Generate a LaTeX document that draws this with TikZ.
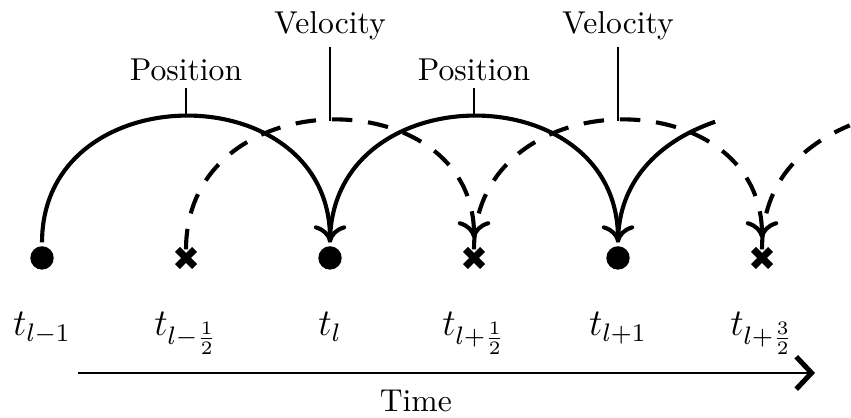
\documentclass[tikz,border=0pt]{standalone}
\usepackage{amsmath}
\usetikzlibrary{positioning,arrows.meta,shapes.misc}

\begin{document}
\begin{tikzpicture}[
    posdot/.style={circle, fill=black, inner sep=0pt, minimum size=0.26cm,
                   outer sep=1.2pt},
    velcross/.style={cross out, draw=black, line width=2.2pt, inner sep=0pt,
                     minimum size=0.19cm, outer sep=0pt},
    posline/.style={line width=1.3pt},
    posarc/.style={posline, -{To[length=1.9mm,width=3.6mm]}},
    velline/.style={posline, dash pattern=on 6.5pt off 5pt},
    velarc/.style={posarc, dash pattern=on 6.5pt off 5pt, shorten >=3.5pt},
    tag/.style={inner sep=2pt},
    pin/.style={line width=0.4pt},
    tlbl/.style={anchor=base, inner sep=0pt, font=\large},
    timearr/.style={line width=0.6pt,
                    -{Straight Barb[length=1.7mm,width=3.6mm,line width=1.6pt]}}
]
\useasboundingbox (0,0) rectangle (9.456,4.644);

% time points: dots for position, crosses for velocity
\node[posdot] (p0) at (0.467,1.778) {};
\node[velcross] (p1) at (2.067,1.778) {};
\node[posdot] (p2) at (3.667,1.778) {};
\node[velcross] (p3) at (5.267,1.778) {};
\node[posdot] (p4) at (6.867,1.778) {};
\node[velcross] (p5) at (8.467,1.778) {};

\node[tlbl, below=0.86cm of p0.center, anchor=base] (t0) {$t_{l-1}$};
\node[tlbl, below=0.86cm of p1.center, anchor=base] (t1) {$t_{l-\frac{1}{2}}$};
\node[tlbl, below=0.86cm of p2.center, anchor=base] (t2) {$t_{l}$};
\node[tlbl, below=0.86cm of p3.center, anchor=base] (t3) {$t_{l+\frac{1}{2}}$};
\node[tlbl, below=0.86cm of p4.center, anchor=base] (t4) {$t_{l+1}$};
\node[tlbl, below=0.86cm of p5.center, anchor=base] (t5) {$t_{l+\frac{3}{2}}$};

% leapfrog jumps
\draw[posarc] (p0) to[out=90,in=90,looseness=1.5] coordinate[pos=0.5] (top0) (p2);
\draw[velarc] (p1) to[out=90,in=90,looseness=1.52] coordinate[pos=0.5] (top1) (p3);
\draw[posarc] (p2) to[out=90,in=90,looseness=1.5] coordinate[pos=0.5] (top2) (p4);
\draw[velarc] (p3) to[out=90,in=90,looseness=1.52] coordinate[pos=0.5] (top3) (p5);
\coordinate (pend) at (7.946,3.291);
\coordinate (vend) at (9.442,3.251);
\draw[posline] (p4) to[out=90,in=199,looseness=1] (pend);
\draw[velline] (p5) to[out=90,in=203,looseness=1.02] (vend);

% labels
\node[tag, above=0.31cm of top0] (pos0) {Position};
\node[tag, above=0.83cm of top1] (vel1) {Velocity};
\node[tag, above=0.31cm of top2] (pos2) {Position};
\node[tag, above=0.83cm of top3] (vel3) {Velocity};
\draw[pin] (pos0) -- (top0);
\draw[pin] (vel1) -- (top1);
\draw[pin] (pos2) -- (top2);
\draw[pin] (vel3) -- (top3);

% time axis
\coordinate (tstart) at (0.867,0.5);
\coordinate (tend) at (9.056,0.5);
\draw[timearr] (tstart) -- (tend);
\node[tag] (time) at (4.62,0.19) {Time};
\end{tikzpicture}
\end{document}
